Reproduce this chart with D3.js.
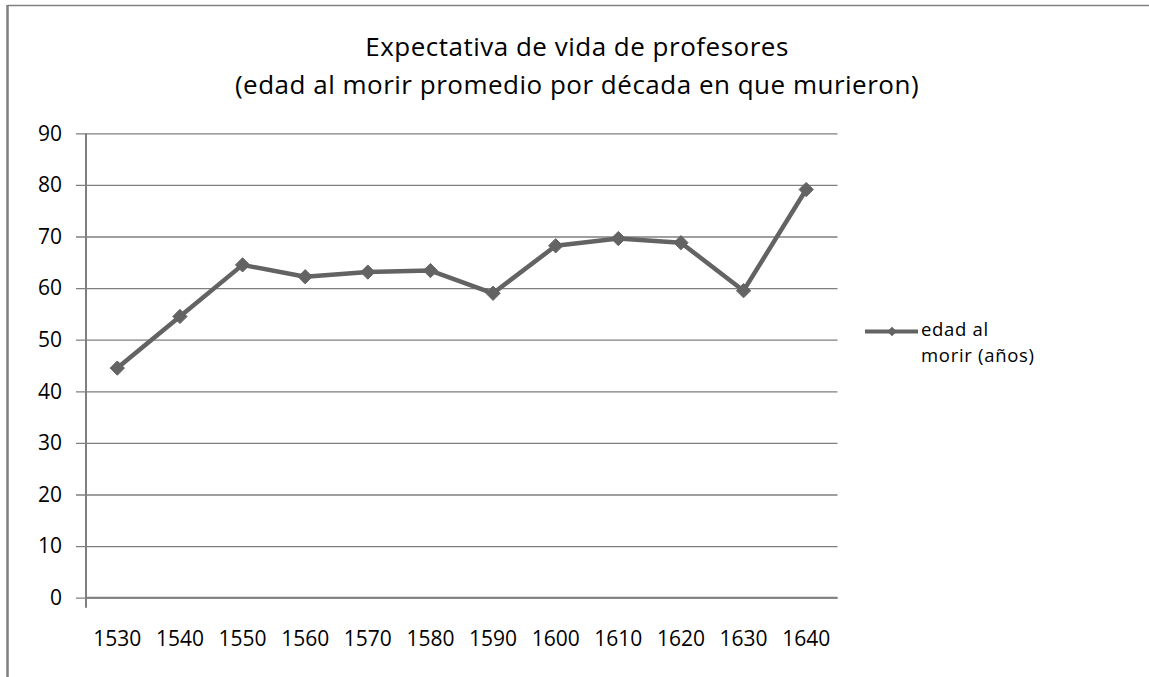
<!DOCTYPE html>
<html>
<head>
<meta charset="utf-8">
<script src="https://cdn.jsdelivr.net/npm/d3@7"></script>
<style>
  body { margin: 0; background: #fff; }
  svg text { font-family: "Open Sans", sans-serif; fill: #000; }
</style>
</head>
<body>
<div id="chart"></div>
<script>
// data
var decades = ["1530","1540","1550","1560","1570","1580","1590","1600","1610","1620","1630","1640"];
var edad = [44.5, 54.5, 64.5, 62.2, 63.1, 63.4, 59.0, 68.2, 69.6, 68.8, 59.5, 79.1];
var yTicks = [0, 10, 20, 30, 40, 50, 60, 70, 80, 90];
var titleLines = ["Expectativa de vida de profesores", "(edad al morir promedio por década en que murieron)"];
var legendLines = ["edad al", "morir (años)"];

var width = 1149, height = 677;
var plot = {left: 86, right: 837.5, top: 133.3, bottom: 597.7};
var lineColor = "#636363", gridColor = "#7f7f7f";

var svg = d3.select("#chart").append("svg")
    .attr("width", width)
    .attr("height", height);

// outer frame (only top and left visible)
svg.append("line").attr("x1", 7.5).attr("x2", width).attr("y1", 5.5).attr("y2", 5.5)
    .style("stroke", "#808080").style("stroke-width", 1.5);
svg.append("line").attr("x1", 7.5).attr("x2", 7.5).attr("y1", 5).attr("y2", height)
    .style("stroke", "#808080").style("stroke-width", 2.5);

// title
svg.append("text")
    .selectAll("tspan")
    .data(titleLines)
    .enter().append("tspan")
    .attr("x", 577)
    .attr("y", function(d, i) { return 56 + i * 37.5; })
    .style("text-anchor", "middle")
    .style("font-size", "26px")
    .style("letter-spacing", "0.5px")
    .text(function(d) { return d; });

var x = d3.scaleBand().domain(decades).range([plot.left, plot.right]);
var y = d3.scaleLinear().domain([0, 90]).range([plot.bottom, plot.top]);

// y axis with gridlines
var yAxis = svg.append("g")
    .attr("transform", "translate(" + plot.left + ",0)")
    .call(d3.axisLeft(y).tickValues(yTicks).tickSize(-(plot.right - plot.left)).tickPadding(24));
yAxis.select(".domain").remove();
yAxis.selectAll(".tick line")
    .attr("x1", -10)
    .style("stroke", gridColor)
    .style("stroke-width", 1.3);
yAxis.selectAll(".tick text")
    .style("font-size", "21px")
    .attr("fill", "#000");

// vertical axis line
svg.append("line")
    .attr("x1", plot.left).attr("x2", plot.left)
    .attr("y1", plot.top).attr("y2", plot.bottom + 10)
    .style("stroke", gridColor).style("stroke-width", 2);

// x axis labels
var xAxis = svg.append("g")
    .attr("transform", "translate(0," + plot.bottom + ")")
    .call(d3.axisBottom(x).tickSize(0).tickPadding(33));
xAxis.select(".domain")
    .attr("d", "M" + plot.left + ",0H" + plot.right)
    .style("stroke", gridColor).style("stroke-width", 2);
xAxis.selectAll(".tick text")
    .style("font-size", "21px")
    .attr("fill", "#000");

// series
var pts = decades.map(function(d, i) { return [x(d) + x.bandwidth() / 2, y(edad[i])]; });
svg.append("path")
    .attr("d", d3.line()(pts))
    .style("fill", "none")
    .style("stroke", lineColor)
    .style("stroke-width", 4.5)
    .style("stroke-linejoin", "round");

var diamond = d3.symbol().type(d3.symbolDiamond2).size(130);
svg.selectAll(".marker")
    .data(pts)
    .enter().append("path")
    .attr("class", "marker")
    .attr("transform", function(d) { return "translate(" + d[0] + "," + d[1] + ")"; })
    .attr("d", diamond)
    .style("fill", lineColor)
    .style("stroke", lineColor)
    .style("stroke-width", 1);

// legend
svg.append("line")
    .attr("x1", 865).attr("x2", 918).attr("y1", 331.5).attr("y2", 331.5)
    .style("stroke", lineColor).style("stroke-width", 4);
svg.append("path")
    .attr("transform", "translate(892,331.5)")
    .attr("d", d3.symbol().type(d3.symbolDiamond2).size(60))
    .style("fill", lineColor);
svg.append("text")
    .selectAll("tspan")
    .data(legendLines)
    .enter().append("tspan")
    .attr("x", 921)
    .attr("y", function(d, i) { return 336 + i * 26; })
    .style("font-size", "18.5px")
    .style("letter-spacing", "0.7px")
    .text(function(d) { return d; });
</script>
</body>
</html>
